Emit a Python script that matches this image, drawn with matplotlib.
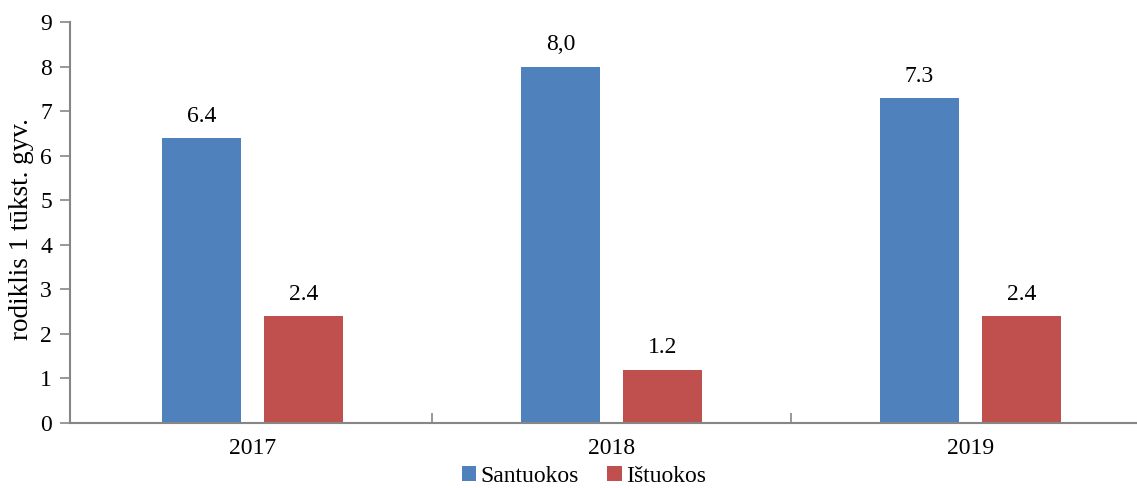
import matplotlib.pyplot as plt
import numpy as np

plt.rcParams['font.family'] = ['Liberation Serif', 'DejaVu Serif']

years = ['2017', '2018', '2019']
santuokos = [6.4, 8.0, 7.3]
istuokos = [2.4, 1.2, 2.4]
santuokos_lbl = ['6.4', '8,0', '7.3']
istuokos_lbl = ['2.4', '1.2', '2.4']

blue = '#4F81BD'
red = '#C0504D'
axis_col = '#868686'

fig = plt.figure(figsize=(11.37, 4.88), dpi=100)
ax = fig.add_axes([70 / 1137, 65 / 488, 1067 / 1137, 401 / 488])

x = np.arange(len(years))
w = 0.222
off = 0.142
b1 = ax.bar(x - off, santuokos, w, color=blue, label='Santuokos')
b2 = ax.bar(x + off, istuokos, w, color=red, label='Ištuokos')

for bars, labels in [(b1, santuokos_lbl), (b2, istuokos_lbl)]:
    for rect, t in zip(bars, labels):
        ax.annotate(t, (rect.get_x() + rect.get_width() / 2, rect.get_height()),
                    xytext=(0, 8), textcoords='offset points',
                    ha='center', va='bottom', fontsize=17)

x0 = -0.5 - 3 / 359
ax.set_xlim(x0, x0 + 1067 / 359)
ax.set_ylim(0, 9)
ax.set_yticks(range(10))
ax.set_xticks(x)
ax.set_xticklabels(years)
ax.set_xticks([0.5, 1.5], minor=True)
ax.tick_params(axis='x', which='major', length=0, pad=11, labelsize=17)
ax.tick_params(axis='x', which='minor', direction='in', length=7, color=axis_col, width=1.2)
ax.tick_params(axis='y', direction='out', length=7, color=axis_col, width=1.2, labelsize=17, pad=6)

for s in ['top', 'right']:
    ax.spines[s].set_visible(False)
for s in ['left', 'bottom']:
    ax.spines[s].set_color(axis_col)
    ax.spines[s].set_linewidth(1.5)

ax.set_ylabel('rodiklis 1 tūkst. gyv.', fontsize=19.5)
ax.yaxis.set_label_coords(-36 / 1067, 0.484)

fig.legend(handles=[b1, b2], loc='center', bbox_to_anchor=(584 / 1137, 12 / 488),
           ncol=2, frameon=False, fontsize=17, handlelength=0.6, handleheight=0.6,
           handletextpad=0.2, columnspacing=1.2, borderpad=0)

fig.savefig('out.png', dpi=100)
